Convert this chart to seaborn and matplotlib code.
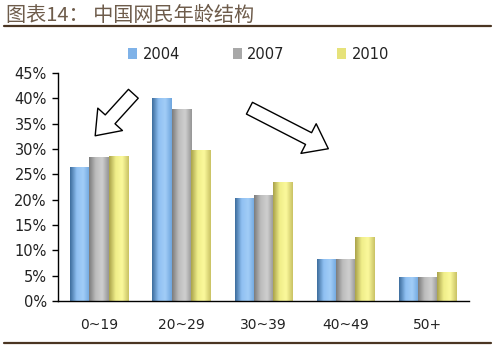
import numpy as np
import pandas as pd
import matplotlib
matplotlib.use("Agg")
import matplotlib.pyplot as plt
import seaborn as sns
from matplotlib.colors import LinearSegmentedColormap
from matplotlib.lines import Line2D
from matplotlib.patches import Patch

categories = ["0~19", "20~29", "30~39", "40~49", "50+"]
years = ["2004", "2007", "2010"]
v2004 = [26.4, 40.1, 20.4, 8.3, 4.8]
v2007 = [28.4, 37.9, 20.9, 8.3, 4.8]
v2010 = [28.6, 29.8, 23.5, 12.7, 5.7]
title = "图表14： 中国网民年龄结构"

colors = {"2004": "#7fb2e8", "2007": "#a8a8a8", "2010": "#e6e27a"}
gradients = {
    "2004": ["#3d6c9c", "#8fc0f2", "#a2cdf7", "#6ea6de"],
    "2007": ["#7c7c7c", "#bdbdbd", "#cfcfcf", "#959595"],
    "2010": ["#a9a24a", "#f0ee8a", "#fbf99c", "#c9c264"],
}

df = pd.DataFrame({
    "age": categories * 3,
    "year": [years[0]] * 5 + [years[1]] * 5 + [years[2]] * 5,
    "value": v2004 + v2007 + v2010,
})

sns.set_style("white")
plt.rcParams["font.family"] = ["DejaVu Sans", "Noto Sans CJK SC"]

fig = plt.figure(figsize=(4.93, 3.45), dpi=100)
ax = fig.add_axes([0.1176, 0.1275, 0.8334, 0.661])

sns.barplot(data=df, x="age", y="value", hue="year", order=categories,
            hue_order=years, palette=colors, width=0.7, gap=0, ax=ax,
            legend=False, linewidth=0, saturation=1)

ax.set_xlim(-0.5, 4.5)
ax.set_ylim(0, 45)

# gradient fill on each bar
bars = [p for p in ax.patches]
for i, p in enumerate(bars):
    yr = years[i // len(categories)]
    cmap = LinearSegmentedColormap.from_list("g" + yr, gradients[yr])
    x0, y0 = p.get_x(), p.get_y()
    w, h = p.get_width(), p.get_height()
    grad = np.linspace(0, 1, 64).reshape(1, -1)
    im = ax.imshow(grad, cmap=cmap, aspect="auto",
                   extent=(x0, x0 + w, y0, y0 + h), zorder=p.get_zorder(),
                   interpolation="bicubic")
    im.set_clip_path(p)
    p.set_facecolor("none")

ax.set_xlim(-0.5, 4.5)
ax.set_ylim(0, 45)

ax.set_yticks(np.arange(0, 46, 5))
ax.set_yticklabels([f"{t}%" for t in range(0, 46, 5)])
ax.set_xticks(range(len(categories)))
ax.set_xticklabels(categories)
ax.set_xticks(np.arange(0.5, 4.6, 1), minor=True)
ax.tick_params(axis="x", which="major", length=0, pad=12, labelsize=10, colors="#222222")
ax.tick_params(axis="x", which="minor", direction="in", length=4, width=1, color="black")
ax.tick_params(axis="y", which="major", direction="out", length=4, width=1,
               color="black", left=True, labelsize=10.5, pad=4, labelcolor="#222222")
ax.set_xlabel("")
ax.set_ylabel("")
for s in ["top", "right"]:
    ax.spines[s].set_visible(False)
for s in ["left", "bottom"]:
    ax.spines[s].set_color("black")
    ax.spines[s].set_linewidth(1)

handles = [Patch(facecolor=colors[y], edgecolor="none") for y in years]
fig.legend(handles, years, loc="center", bbox_to_anchor=(0.525, 0.843), ncol=3,
           frameon=False, handlelength=0.6, handleheight=0.8, handletextpad=0.4,
           columnspacing=3.6, fontsize=10.5, labelcolor="#222222")

# hollow arrows
arrow_kw = dict(arrowstyle="simple,head_width=2.4,head_length=1.6,tail_width=0.95",
                fc="white", ec="black", lw=1, mutation_scale=10)
ax.annotate("", xy=(-0.07, 32.2), xytext=(0.44, 41.3), xycoords="data",
            arrowprops=arrow_kw)
ax.annotate("", xy=(2.82, 29.8), xytext=(1.80, 38.3), xycoords="data",
            arrowprops=arrow_kw)

# title and rules
fig.text(0.012, 0.955, title, fontsize=14.5, color="#6e5c4b", style="italic",
         family=["Noto Sans CJK SC", "DejaVu Sans"], va="center", ha="left")
fig.add_artist(Line2D([0.008, 0.995], [0.925, 0.925], color="#4a3522", lw=1.6))
fig.add_artist(Line2D([0.008, 0.995], [0.006, 0.006], color="#4a3522", lw=1.6))

fig.savefig("out.png", dpi=100)
